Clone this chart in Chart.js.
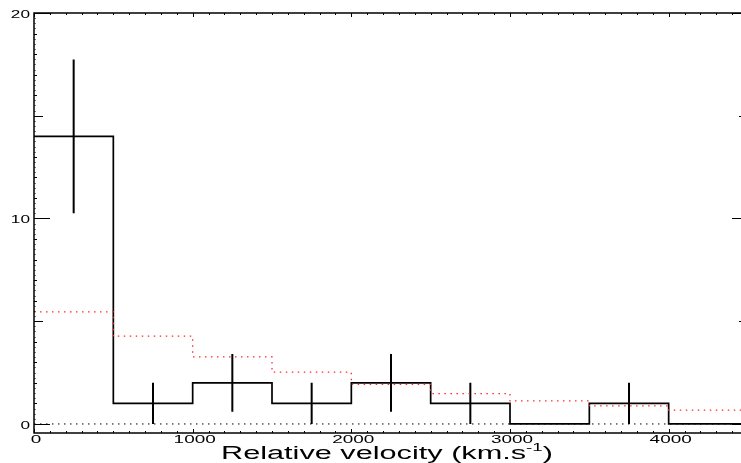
<!DOCTYPE html>
<html>
<head>
<meta charset="utf-8">
<script src="https://cdn.jsdelivr.net/npm/chart.js@4/dist/chart.umd.min.js"></script>
<style>
  html, body { margin: 0; padding: 0; background: #fff; overflow: hidden; }
  /* the original figure is cropped just before its right-hand axis */
  #wrap { width: 750px; height: 463px; }
</style>
</head>
<body>
<div id="wrap"><canvas id="velocityChart"></canvas></div>
<script>
// histogram bins (km/s) and counts
const binEdges = [0, 500, 1000, 1500, 2000, 2500, 3000, 3500, 4000, 4500];
const observedCounts = [14, 1, 2, 1, 2, 1, 0, 1, 0];
const countErrors = [3.74, 1, 1.41, 1, 1.41, 1, 0, 1, 0];
const modelCounts = [5.45, 4.27, 3.26, 2.52, 1.93, 1.48, 1.12, 0.88, 0.67];
const xTickValues = [0, 1000, 2000, 3000, 4000];
const yTickValues = [0, 10, 20];
const xTitle = "Relative velocity (km.s";
const xTitleSup = "-1";

const X_MAX = 4500;
const Y_MIN = -0.44;
const Y_MAX = 20;
const FONT = "Liberation Sans, Arial, sans-serif";
const STRETCH = 1.72; // IDL vector font is much wider than Helvetica
const TITLE_WIDTH = 332;

function stepPoints(counts) {
  return binEdges.map((edge, i) => ({ x: edge, y: counts[Math.min(i, counts.length - 1)] }));
}

function errorBarPoints() {
  const pts = [];
  observedCounts.forEach((c, i) => {
    const err = countErrors[i];
    if (!err) return;
    const mid = (binEdges[i] + binEdges[i + 1]) / 2;
    pts.push({ x: mid, y: c - err }, { x: mid, y: c + err }, { x: mid, y: null });
  });
  return pts;
}

function rawWidth(ctx, text, size) {
  ctx.font = `${size}px ${FONT}`;
  return ctx.measureText(text).width;
}

// draws text stretched horizontally, x is the left edge
function drawWide(ctx, text, x, y, size, sx) {
  ctx.save();
  ctx.font = `${size}px ${FONT}`;
  ctx.textAlign = "left";
  ctx.textBaseline = "alphabetic";
  ctx.translate(x, y);
  ctx.scale(sx, 1);
  ctx.fillText(text, 0, 0);
  ctx.restore();
}

// IDL style frame: box with inward ticks, plus wide labels
const frameTicks = {
  id: "frameTicks",
  afterDatasetsDraw(chart) {
    const { ctx, chartArea: a, scales: { x, y } } = chart;
    ctx.save();
    ctx.strokeStyle = "#000";
    ctx.fillStyle = "#000";
    ctx.lineWidth = 1;
    ctx.beginPath();
    for (let v = 0; v <= x.max; v += 100) {
      const px = Math.round(x.getPixelForValue(v)) + 0.5;
      const len = v % 1000 === 0 ? 4 : 2;
      ctx.moveTo(px, a.bottom); ctx.lineTo(px, a.bottom - len);
      ctx.moveTo(px, a.top); ctx.lineTo(px, a.top + len);
    }
    for (let v = 0; v <= y.max; v += 1) {
      const py = Math.round(y.getPixelForValue(v)) + 0.5;
      const len = v % 10 === 0 ? 16 : v % 5 === 0 ? 9 : 3;
      ctx.moveTo(a.left, py); ctx.lineTo(a.left + len, py);
      ctx.moveTo(a.right, py); ctx.lineTo(a.right - len, py);
    }
    ctx.stroke();

    // fine ruler marks along the left axis
    ctx.strokeStyle = "rgba(0,0,0,0.5)";
    ctx.beginPath();
    for (let v = 0; v <= y.max; v += 0.25) {
      const py = Math.round(y.getPixelForValue(v)) + 0.5;
      ctx.moveTo(a.left, py); ctx.lineTo(a.left + 2, py);
    }
    ctx.stroke();

    ctx.strokeStyle = "#000";
    ctx.lineWidth = 1.5;
    ctx.strokeRect(a.left, a.top, a.right - a.left, a.bottom - a.top);

    // tick labels
    xTickValues.forEach((v) => {
      const s = String(v);
      const w = rawWidth(ctx, s, 11) * STRETCH;
      drawWide(ctx, s, x.getPixelForValue(v) - w / 2 + 2, a.bottom + 10, 11, STRETCH);
    });
    yTickValues.forEach((v) => {
      const s = String(v);
      const w = rawWidth(ctx, s, 10) * STRETCH;
      drawWide(ctx, s, a.left - 4 - w, y.getPixelForValue(v) + 5, 10, STRETCH);
    });

    // axis title with superscript, stretched to the original width
    const wMain = rawWidth(ctx, xTitle, 18);
    const wSup = rawWidth(ctx, xTitleSup, 11);
    const wEnd = rawWidth(ctx, ")", 18);
    const sx = TITLE_WIDTH / (wMain + wSup + wEnd);
    let tx = 387 - TITLE_WIDTH / 2;
    const base = 459;
    drawWide(ctx, xTitle, tx, base, 18, sx);
    tx += wMain * sx;
    drawWide(ctx, xTitleSup, tx, base - 8, 11, sx);
    tx += wSup * sx;
    drawWide(ctx, ")", tx, base, 18, sx);
    ctx.restore();
  },
};

const ctx = document.getElementById("velocityChart").getContext("2d");

new Chart(ctx, {
  type: "line",
  data: {
    datasets: [
      {
        label: "zero",
        data: [{ x: 0, y: 0 }, { x: X_MAX, y: 0 }],
        borderColor: "#000",
        borderWidth: 1,
        borderDash: [1.5, 4.5],
        pointRadius: 0,
      },
      {
        label: "model",
        data: stepPoints(modelCounts),
        stepped: "before",
        borderColor: "#ff2a2a",
        borderWidth: 1.3,
        borderDash: [1.5, 4.5],
        pointRadius: 0,
      },
      {
        label: "observed",
        data: stepPoints(observedCounts),
        stepped: "before",
        borderColor: "#000",
        borderWidth: 1.7,
        pointRadius: 0,
      },
      {
        label: "errors",
        data: errorBarPoints(),
        borderColor: "#000",
        borderWidth: 2,
        pointRadius: 0,
        spanGaps: false,
      },
    ],
  },
  options: {
    responsive: true,
    maintainAspectRatio: false,
    animation: false,
    layout: { padding: { top: 13, right: 2, left: 0, bottom: 0 } },
    plugins: {
      legend: { display: false },
      tooltip: { enabled: false },
    },
    scales: {
      x: {
        type: "linear",
        min: 0,
        max: X_MAX,
        grid: { display: false, drawTicks: false },
        border: { display: false },
        ticks: { display: false },
        afterFit: (scale) => { scale.height = 30; },
      },
      y: {
        min: Y_MIN,
        max: Y_MAX,
        grid: { display: false, drawTicks: false },
        border: { display: false },
        ticks: { display: false },
        afterFit: (scale) => { scale.width = 34; },
      },
    },
  },
  plugins: [frameTicks],
});
</script>
</body>
</html>
